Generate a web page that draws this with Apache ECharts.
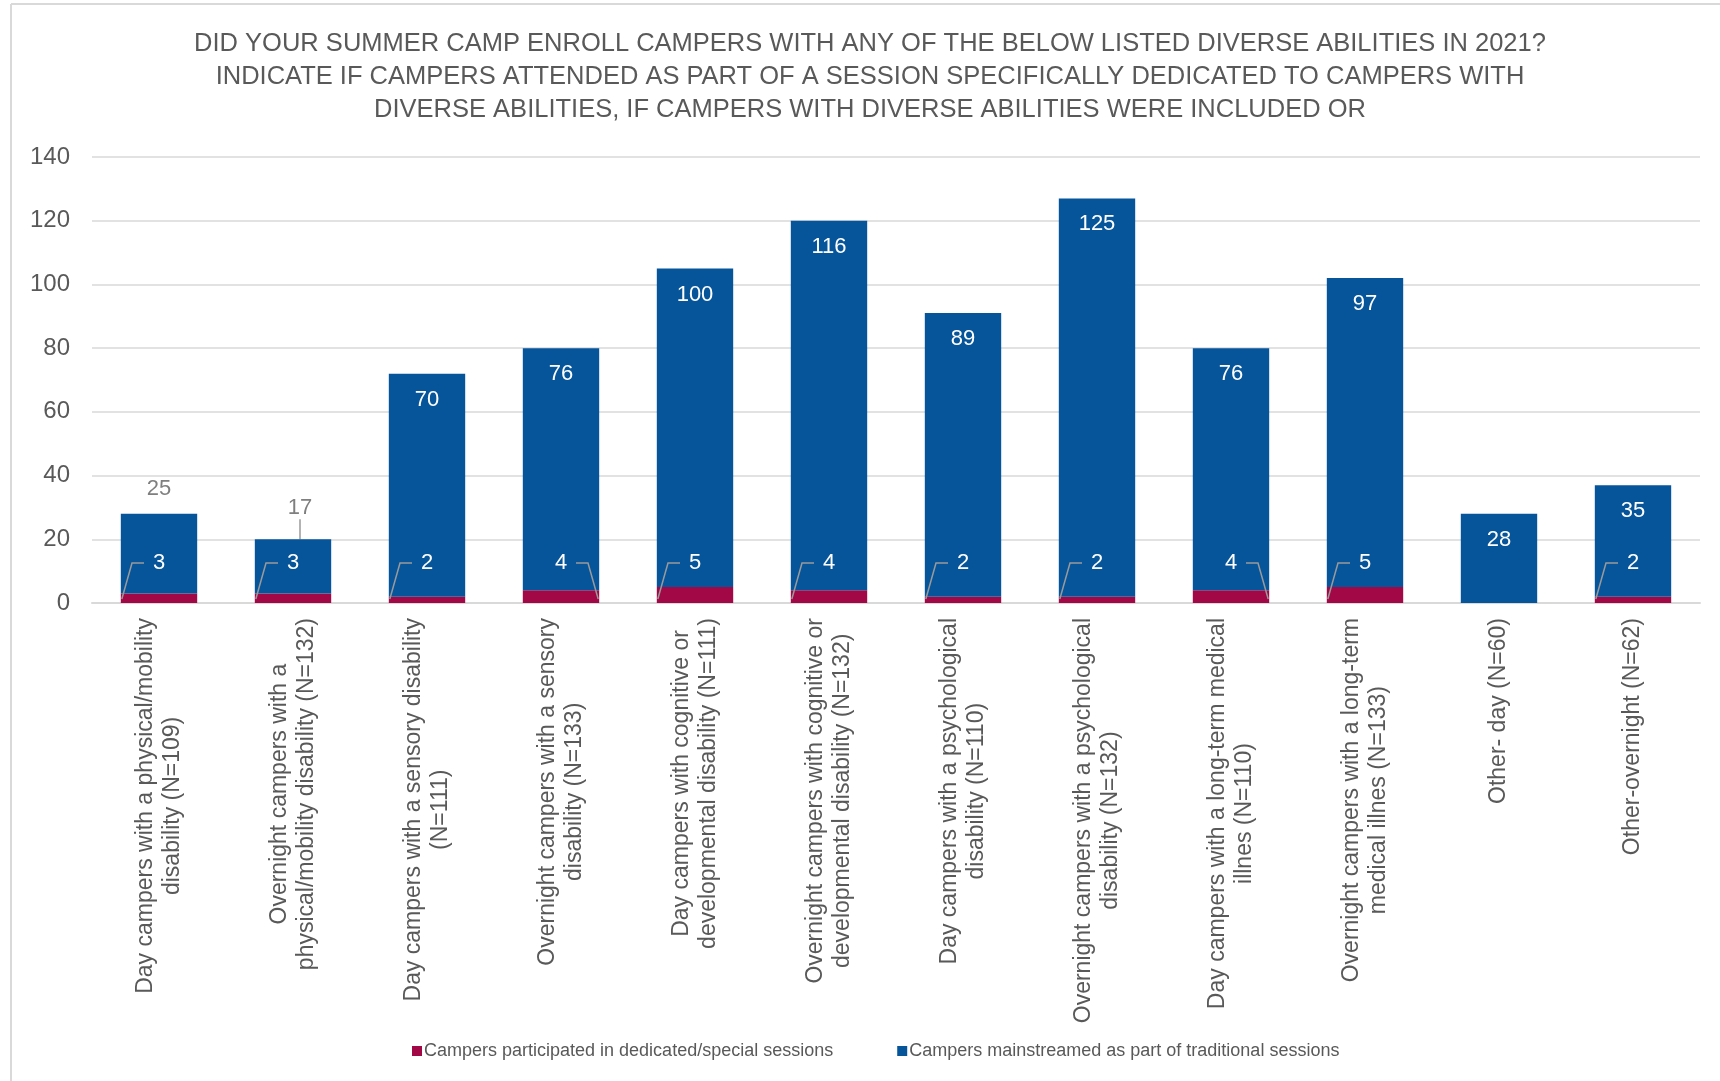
<!DOCTYPE html>
<html>
<head>
<meta charset="utf-8">
<script src="https://cdn.jsdelivr.net/npm/echarts@6/dist/echarts.min.js"></script>
<style>
    html, body { margin: 0; padding: 0; background: #fff; }
    #chart { width: 1720px; height: 1081px; }
</style>
</head>
<body>
<div id="chart"></div>
<script>
// categories (line breaks as in the original axis labels)
const categories = [
    'Day campers with a physical/mobility\ndisability (N=109)',
    'Overnight campers with a\nphysical/mobility disability (N=132)',
    'Day campers with a sensory disability\n(N=111)',
    'Overnight campers with a sensory\ndisability (N=133)',
    'Day campers with cognitive or\ndevelopmental disability (N=111)',
    'Overnight campers with cognitive or\ndevelopmental disability (N=132)',
    'Day campers with a psychological\ndisability (N=110)',
    'Overnight campers with a psychological\ndisability (N=132)',
    'Day campers with a long-term medical\nillnes (N=110)',
    'Overnight campers with a long-term\nmedical illnes (N=133)',
    'Other- day (N=60)',
    'Other-overnight (N=62)'
];

// campers in dedicated/special sessions
const dedicated = [3, 3, 2, 4, 5, 4, 2, 2, 4, 5, 0, 2];
// campers mainstreamed in traditional sessions
const mainstreamed = [25, 17, 70, 76, 100, 116, 89, 125, 76, 97, 28, 35];

const yTicks = [0, 20, 40, 60, 80, 100, 120, 140];

// which side of the bar the leader line of the red label goes to (-1 left, 1 right)
const leaderSide = [-1, -1, -1, 1, -1, -1, -1, -1, 1, -1, -1, -1];

const RED = '#A20845';
const BLUE = '#06559A';
const GREY_TEXT = '#595959';
const FONT = 'Liberation Sans, Arial, sans-serif';
const BAR_RATIO = 0.57;

const chart = echarts.init(document.getElementById('chart'));

// blue labels: white inside the bar, except the two short bars (grey, above)
const blueData = mainstreamed.map((v, i) => {
    if (i === 0) {
        return {value: v, label: {position: 'top', color: '#7f7f7f', distance: 14}};
    }
    if (i === 1) {
        return {
            value: v,
            label: {position: 'top', color: '#7f7f7f', distance: 10},
            labelLine: {show: true, lineStyle: {color: '#9a9a9a', width: 1.5}}
        };
    }
    return v;
});

// red values drawn as labels with leader lines (skip zero)
const redLabelData = dedicated
    .map((v, i) => [i, v])
    .filter(d => d[1] > 0);

function renderRedLabel(params, api) {
    const idx = api.value(0);
    const val = api.value(1);
    const base = api.coord([idx, 0]);
    const band = api.size([1, 0])[0];
    const half = band * BAR_RATIO / 2;
    const side = leaderSide[idx];
    const ly = base[1] - 40;
    const cx = base[0];
    return {
        type: 'group',
        children: [{
            type: 'polyline',
            shape: {
                points: [
                    [cx + side * 15, ly],
                    [cx + side * 27, ly],
                    [cx + side * (half - 1), base[1] - 4]
                ]
            },
            style: {stroke: '#9a9a9a', lineWidth: 1.5, fill: null}
        }, {
            type: 'text',
            x: cx,
            y: ly,
            style: {
                text: String(val),
                fill: '#ffffff',
                font: '22px ' + FONT,
                align: 'center',
                verticalAlign: 'middle'
            }
        }]
    };
}

const option = {
    backgroundColor: '#ffffff',
    animation: false,
    title: {
        text: 'DID YOUR SUMMER CAMP ENROLL CAMPERS WITH ANY OF THE BELOW LISTED DIVERSE ABILITIES IN 2021?\n' +
            'INDICATE IF CAMPERS ATTENDED AS PART OF A SESSION SPECIFICALLY DEDICATED TO CAMPERS WITH\n' +
            'DIVERSE ABILITIES, IF CAMPERS WITH DIVERSE ABILITIES WERE INCLUDED OR',
        left: 870,
        top: 27,
        padding: 0,
        textAlign: 'center',
        textStyle: {
            fontFamily: FONT,
            fontSize: 25.5,
            fontWeight: 'normal',
            color: GREY_TEXT,
            lineHeight: 33
        }
    },
    legend: {
        data: ['Campers participated in dedicated/special sessions', 'Campers mainstreamed as part of traditional sessions'],
        left: 407,
        top: 1037,
        icon: 'rect',
        itemWidth: 10,
        itemHeight: 10,
        itemGap: 64,
        textStyle: {fontFamily: FONT, fontSize: 18, color: GREY_TEXT, padding: [0, 0, 0, -3]}
    },
    grid: {
        left: 92,
        right: 20,
        top: 157,
        bottom: 478,
        containLabel: false
    },
    xAxis: {
        type: 'category',
        data: categories,
        axisLine: {lineStyle: {color: '#d9d9d9', width: 2}},
        axisTick: {show: false},
        axisLabel: {
            interval: 0,
            rotate: 90,
            margin: 15,
            formatter: function (value) {
                return value.split('\n').map(l => '{c|' + l + '}').join('\n');
            },
            rich: {
                c: {
                    align: 'center',
                    fontFamily: FONT,
                    fontSize: 23,
                    lineHeight: 27,
                    color: GREY_TEXT
                }
            }
        }
    },
    yAxis: {
        type: 'value',
        min: yTicks[0],
        max: yTicks[yTicks.length - 1],
        interval: yTicks[1] - yTicks[0],
        axisLine: {show: false},
        axisTick: {show: false},
        axisLabel: {fontFamily: FONT, fontSize: 24, color: GREY_TEXT, margin: 22},
        splitLine: {lineStyle: {color: '#d9d9d9', width: 1.5}}
    },
    labelLayout: function (params) {
        if (params.seriesIndex === 1 && params.dataIndex === 1) {
            return {dx: 7, dy: -10};
        }
    },
    series: [{
        name: 'Campers participated in dedicated/special sessions',
        type: 'bar',
        stack: 'total',
        barWidth: (BAR_RATIO * 100) + '%',
        itemStyle: {color: RED},
        data: dedicated
    }, {
        name: 'Campers mainstreamed as part of traditional sessions',
        type: 'bar',
        stack: 'total',
        barWidth: (BAR_RATIO * 100) + '%',
        itemStyle: {color: BLUE},
        label: {
            show: true,
            position: 'insideTop',
            distance: 15,
            color: '#ffffff',
            fontFamily: FONT,
            fontSize: 22
        },
        data: blueData
    }, {
        name: 'dedicated labels',
        type: 'custom',
        renderItem: renderRedLabel,
        encode: {x: 0, y: 1},
        clip: false,
        z: 5,
        silent: true,
        data: redLabelData
    }],
    graphic: [{
        type: 'line',
        shape: {x1: 11, y1: 4, x2: 1720, y2: 4},
        style: {stroke: '#d9d9d9', lineWidth: 2}
    }, {
        type: 'line',
        shape: {x1: 11, y1: 4, x2: 11, y2: 1081},
        style: {stroke: '#d9d9d9', lineWidth: 2}
    }]
};

chart.setOption(option);
</script>
</body>
</html>
